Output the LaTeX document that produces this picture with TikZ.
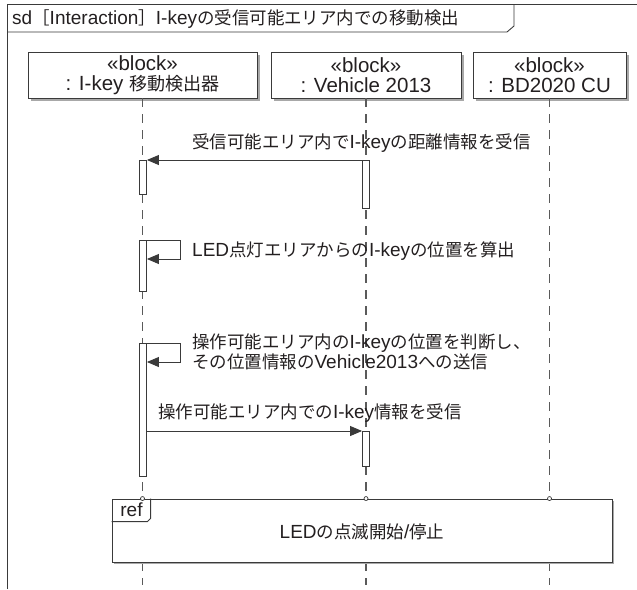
\documentclass[tikz,border=0pt]{standalone}
\usepackage{fontspec}
\setmainfont{Liberation Sans}
\newfontfamily\jpm{Noto Sans CJK JP}[Scale=0.92]
\newfontfamily\jpb{Noto Sans CJK JP}[Scale=0.88]
\newcommand\J[1]{{\jpm #1}}
\newcommand\JB[1]{{\jpb #1}}
\usetikzlibrary{arrows.meta,shadows}
\definecolor{ink}{HTML}{231F20}
\definecolor{ln}{HTML}{3A3A3A}
\definecolor{ll}{HTML}{5A5A5A}
\definecolor{shd}{HTML}{A8A8A8}
\begin{document}
\begin{tikzpicture}[x=1pt,y=-1pt,
  every node/.style={text=ink, font=\fontsize{19}{19}\selectfont},
  blk/.style={draw=ln, line width=0.9pt, fill=white, minimum height=46pt, align=center, inner sep=0pt,
    font=\fontsize{20.5}{19.5}\selectfont,
    drop shadow={shadow xshift=2.5pt,shadow yshift=-2.5pt,fill=shd,opacity=1}},
  life/.style={draw=ll, line width=1.1pt, dash pattern=on 9pt off 7pt},
  act/.style={draw=ln, line width=0.9pt, fill=white, minimum width=7pt, inner sep=0pt},
  msg/.style={draw=ln, line width=0.9pt, -{Triangle[length=12pt,width=10pt]}},
  lbl/.style={anchor=west, inner sep=0pt},
  refbox/.style={draw=ln, line width=0.9pt, fill=white, inner sep=0pt,
    drop shadow={shadow xshift=2pt,shadow yshift=-2pt,fill=shd,opacity=1}},
  gate/.style={draw=ln, line width=0.7pt, fill=white}
]
\useasboundingbox (0,0) rectangle (637,589);
% frame
\draw[ln, line width=0.9pt] (7,589) -- (7,4) -- (637,4);
\draw[ln, line width=0.9pt] (7,32) -- (507,32) -- (514,26) -- (514,4);
\node[lbl] (title) at (12,19) {sd\J{［}Interaction\J{］}I-key\J{の受信可能エリア内での移動検出}};
% lifeline heads
\node[blk, minimum width=229pt] (b1) at (142.5,75) {«block»\\: I-key \JB{移動検出器}};
\node[blk, minimum width=190pt] (b2) at (366,75) {«block»\\: Vehicle 2013};
\node[blk, minimum width=153pt] (b3) at (549.5,75) {«block»\\: BD2020 CU};
\coordinate (bot) at (0,585);
\draw[life] (b1.south) -- (b1.south |- bot);
\draw[life] (b2.south) -- (b2.south |- bot);
\draw[life] (b3.south) -- (b3.south |- bot);
% activations
\node[act, minimum height=34pt, anchor=north] (a1) at (143,160) {};
\node[act, minimum height=48pt, anchor=north] (a2) at (366,160) {};
\node[act, minimum height=51pt, anchor=north] (a3) at (143,240) {};
\node[act, minimum height=133pt, anchor=north] (a4) at (143,343) {};
\node[act, minimum height=35pt, anchor=north] (a5) at (366,431) {};
% messages
\draw[msg] (a2.north west) -- (a1.north east);
\node[lbl] (t1) at (192,143) {\J{受信可能エリア内で}I-key\J{の距離情報を受信}};
\draw[msg] (a3.north east) -- ++(33.5,0) -- ++(0,19) -- ++(-33.5,0);
\node[lbl] (t2) at (192,251) {LED\J{点灯エリアからの}I-key\J{の位置を算出}};
\draw[msg] (a4.north east) -- ++(33.5,0) -- ++(0,19) -- ++(-33.5,0);
\node[lbl, align=left, font=\fontsize{19}{18.5}\selectfont] (t3) at (192,352) {\J{操作可能エリア内の}I-key\J{の位置を判断し、}\\\J{その位置情報の}Vehicle2013\J{への送信}};
\draw[msg] (a4.east |- a5.north) -- (a5.north west);
\node[lbl] (t4) at (158,413) {\J{操作可能エリア内での}I-key\J{情報を受信}};
% ref
\node[refbox, minimum width=500pt, minimum height=63pt] (ref) at (362,530.5) {};
\draw[ln, line width=0.9pt] (ref.north west) ++(0,23) -- ++(36,0) -- ++(3,-3) -- ++(0,-20);
\node (reft) at (131.5,510) {ref};
\node (refl) at (362,532) {LED\J{の点滅開始}/\J{停止}};
\draw[gate] (b1.south |- ref.north) circle (2pt);
\draw[gate] (b2.south |- ref.north) circle (2pt);
\draw[gate] (b3.south |- ref.north) circle (2pt);
\end{tikzpicture}
\end{document}
